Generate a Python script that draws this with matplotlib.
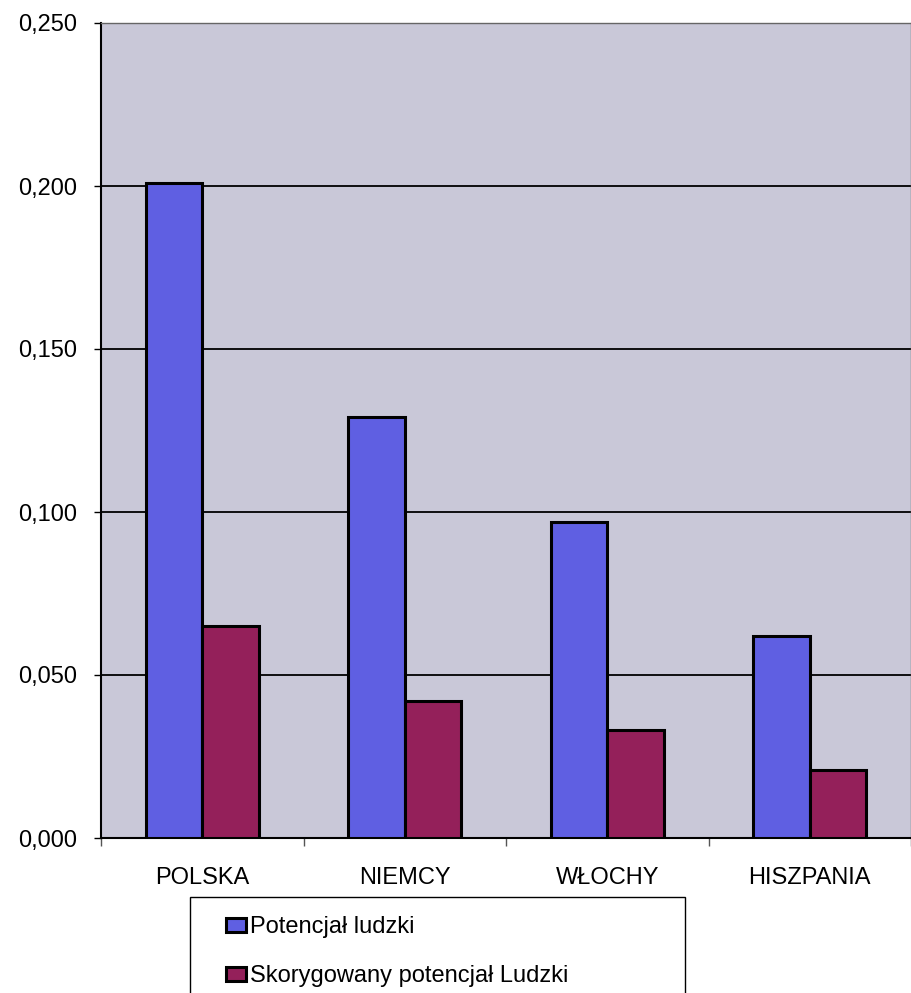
import matplotlib.pyplot as plt
import matplotlib.patches as mpatches
from matplotlib.ticker import FuncFormatter, FixedLocator
import numpy as np

# dane
kraje = ["POLSKA", "NIEMCY", "WŁOCHY", "HISZPANIA"]
potencjal = [0.201, 0.129, 0.097, 0.062]
skorygowany = [0.065, 0.042, 0.033, 0.021]
seria_nazwy = ["Potencjał ludzki", "Skorygowany potencjał Ludzki"]

plt.rcParams['font.family'] = ['Liberation Sans', 'DejaVu Sans']

fig = plt.figure(figsize=(9.12, 9.93), dpi=100)
ax = fig.add_axes([101 / 912, 1 - 838 / 993, 810 / 912, 815 / 993])
ax.set_facecolor("#c9c8d8")

x = np.arange(len(kraje))
w = 0.28
b1 = ax.bar(x - w / 2, potencjal, w, color="#5f5fe2", edgecolor="black", linewidth=2.2, zorder=3,
            label=seria_nazwy[0])
b2 = ax.bar(x + w / 2, skorygowany, w, color="#94205a", edgecolor="black", linewidth=2.2, zorder=3,
            label=seria_nazwy[1])

ax.set_xlim(-0.5, len(kraje) - 0.5)
ax.set_ylim(0, 0.25)
ax.set_yticks(np.arange(0, 0.251, 0.05))
ax.yaxis.set_major_formatter(FuncFormatter(lambda v, p: f"{v:.3f}".replace(".", ",")))
ax.yaxis.grid(True, color="black", linewidth=1.3, zorder=1)
ax.set_xticks(x)
ax.set_xticklabels(kraje)
ax.xaxis.set_minor_locator(FixedLocator(np.arange(-0.5, len(kraje), 1.0)))
ax.tick_params(axis="x", which="major", length=0, pad=21, labelsize=17)
ax.tick_params(axis="x", which="minor", length=6, width=1, color="#555555")
ax.tick_params(axis="y", length=5, width=1, labelsize=17, pad=12)

ax.spines["left"].set_linewidth(1.5)
ax.spines["bottom"].set_linewidth(1.5)
ax.spines["top"].set_color("#666666")
ax.spines["right"].set_color("#666666")
ax.spines["top"].set_linewidth(1)
ax.spines["right"].set_linewidth(1)

# ramka legendy (ucięta u dołu)
fig.patches.append(mpatches.Rectangle((190 / 912, -0.02), 495 / 912, (1 - 897 / 993) + 0.02,
                                      transform=fig.transFigure, facecolor="white",
                                      edgecolor="black", linewidth=1))
leg = fig.legend(handles=[b1, b2], loc="upper left", bbox_to_anchor=(226 / 912, 1 - 916 / 993),
                 frameon=False, fontsize=17, handlelength=0.85, handleheight=0.55,
                 handletextpad=0.15, labelspacing=1.15, borderpad=0, borderaxespad=0)

fig.savefig("out.png", dpi=100)
